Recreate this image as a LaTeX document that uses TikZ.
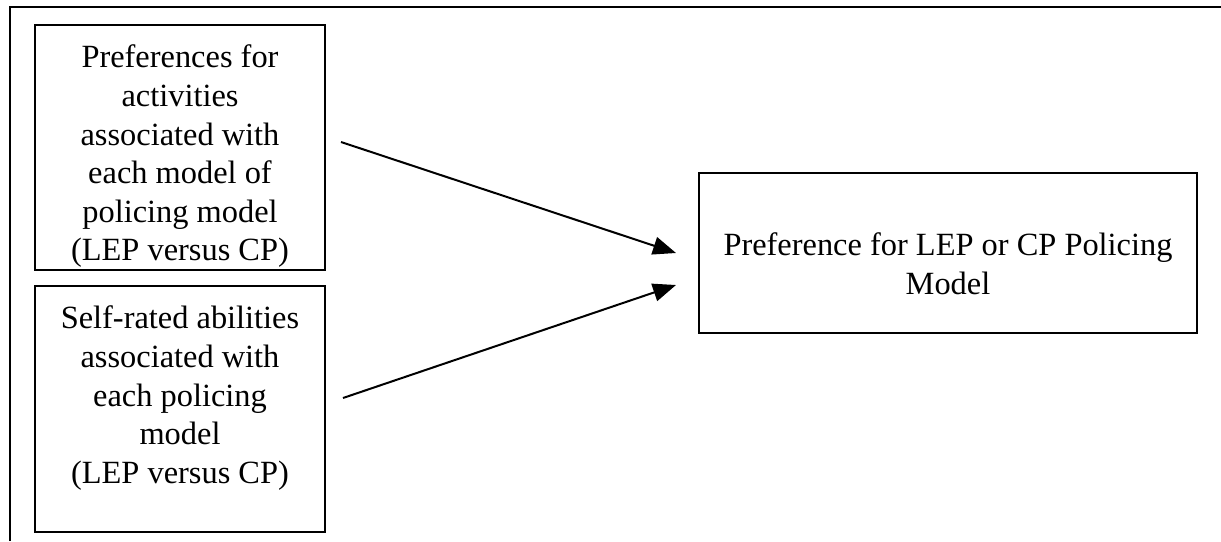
\documentclass[tikz,border=0pt]{standalone}
\usepackage{fontspec}
\setmainfont{Liberation Serif}
\usepackage{tikz}
\tikzset{>=latex}
\usetikzlibrary{arrows.meta}

% text inside a box: fixed size, lines from the top
\newcommand{\boxtext}[4]{\parbox[c][#2][t]{#1}{\centering\vspace*{#3}#4}}

\begin{document}
\begin{tikzpicture}[x=0.5pt, y=-0.5pt,
  line width=1pt,
  box/.style={draw, line width=1pt, inner sep=0pt, font=\fontsize{16.2}{19.3}\selectfont},
  link/.style={-{Triangle[length=11.5pt,width=9pt]}, line width=1pt}]

\useasboundingbox (0,0) rectangle (1221,541);

% Outer frame
\draw (10,541) -- (10,7) -- (1221,7);

% Boxes
\node[box] (pref) at (180,147.5) {\boxtext{145pt}{122.5pt}{10pt}{Preferences for\\ activities\\ associated with\\ each model of\\ policing model\\ (LEP versus CP)}};
\node[box] (abil) at (180,409) {\boxtext{145pt}{123pt}{10pt}{Self-rated abilities\\ associated with\\ each policing\\ model\\ (LEP versus CP)}};
\node[box] (model) at (948,253) {\boxtext{249pt}{80pt}{30pt}{Preference for LEP or CP Policing\\ Model}};

% Arrow ends
\coordinate (in1) at ([xshift=-11pt]model.west);
\coordinate (in2) at ([xshift=-11pt,yshift=-16pt]model.west);

% Arrows
\draw[link] ([xshift=7.5pt,yshift=2.75pt]pref.east) -- (in1);
\draw[link] ([xshift=8.5pt,yshift=5.5pt]abil.east) -- (in2);

\end{tikzpicture}
\end{document}
